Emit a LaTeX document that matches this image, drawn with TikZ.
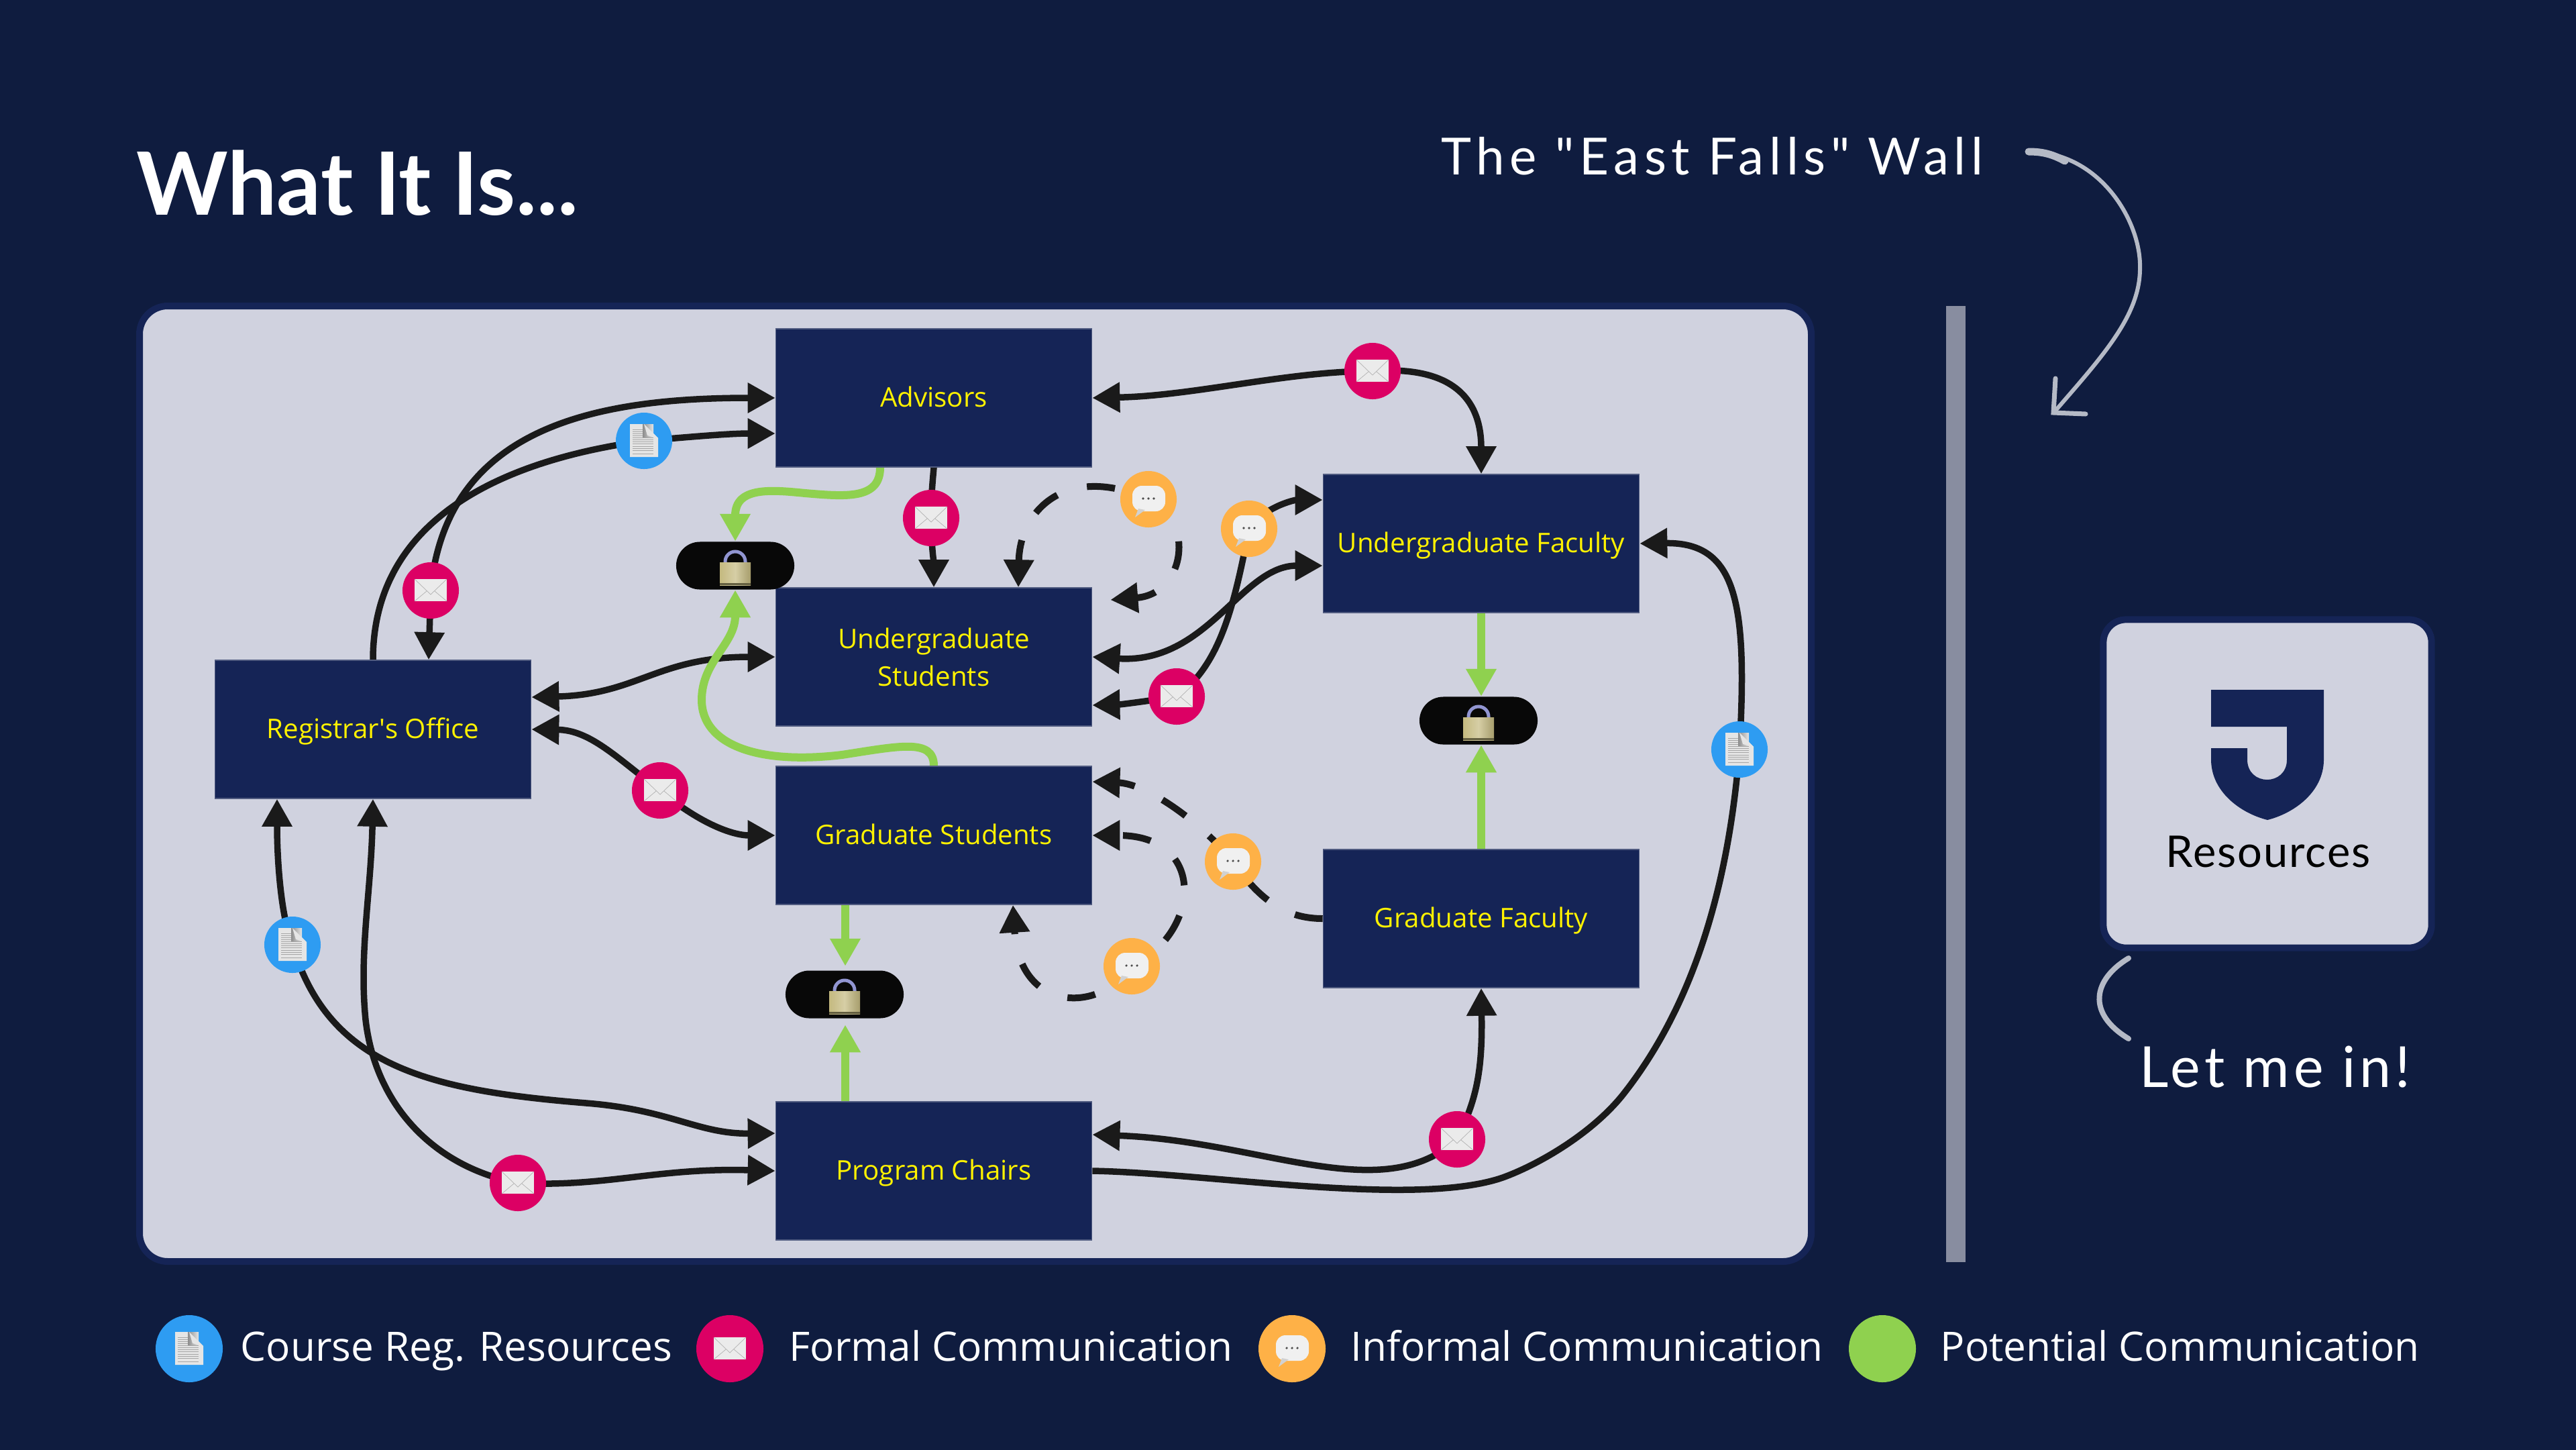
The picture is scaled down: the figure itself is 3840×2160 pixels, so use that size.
\documentclass[tikz,border=0pt]{standalone}
\usepackage{fontspec}
\usepackage{xcolor}
\usepackage{tikz}
\usetikzlibrary{arrows.meta, positioning, calc, backgrounds}
\setmainfont{Open Sans}
\newfontfamily\logofont{Lato}
\definecolor{nightbg}{HTML}{0F1C3F}
\definecolor{navybox}{HTML}{152456}
\definecolor{panelgray}{HTML}{D0D2DF}
\definecolor{wallgray}{HTML}{888DA0}
\definecolor{handgray}{HTML}{B5BAC6}
\definecolor{inkblack}{HTML}{1A1A1A}
\definecolor{docblue}{HTML}{2E9CF2}
\definecolor{mailpink}{HTML}{DC0064}
\definecolor{chatorange}{HTML}{FEB147}
\definecolor{maybegreen}{HTML}{8FD14F}
\definecolor{lockgold}{HTML}{C4B97F}
\tikzset{
    office/.style={draw=navybox!75!white, line width=0.4pt, fill=navybox, text=yellow, align=center,
        minimum width=4.71cm, minimum height=2.06cm, inner sep=0pt, font=\fontsize{11.45}{15.9}\selectfont},
    oneline/.style={text height=10pt, text depth=2.2pt},
    badge/.style={circle, minimum size=0.84cm, inner sep=0pt},
    bigbadge/.style={circle, minimum size=1cm, inner sep=0pt},
    lockpill/.style={rounded corners=0.355cm, fill=black!97!white, minimum width=1.76cm, minimum height=0.71cm, inner sep=0pt},
    flow/.style={draw=inkblack, line width=0.095cm},
    hopflow/.style={flow, line width=0.1cm, dash pattern=on 0.42cm off 0.46cm},
    maybeflow/.style={draw=maybegreen, line width=0.12cm},
    legendtext/.style={text=white, anchor=base west, inner sep=0pt, font=\fontsize{17.15}{20}\selectfont},
    handtext/.style={text=white, anchor=base west, inner sep=0pt},
    mailicon/.pic={
        \fill[black!8] (-24,-17) rectangle (24,16);
        \draw[black!30, line width=0.2pt] (-24,-17) -- (0,6) -- (24,-17) (-24,16) -- (-6,1) (24,16) -- (6,1);
    },
    docicon/.pic={
        \fill[black!10] (-21,-25) -- (0,-25) -- (21,-4) -- (21,24) -- (-21,24) -- cycle;
        \foreach \r in {-17,-14,-11,-8,-5,-2,1,4,8,11,14,19}
            \draw[black!35, line width=0.2pt] (-17,\r) -- (14,\r);
        \shade[left color=black!45, right color=black!10] (-2,-25) rectangle (14,-6);
        \fill[white!90!black] (0,-25) -- (21,-4) -- (5,-8) -- cycle;
    },
    chaticon/.pic={
        \fill[white!94!black, rounded corners=0.14cm] (-24,-20) rectangle (25,18);
        \fill[white!82!black] (-15,14) -- (-20,27) -- (-5,16) -- cycle;
        \foreach \d in {-8,0,8}
            \fill[black!70] (\d,-1) circle (0.018cm);
    },
    lockicon/.pic={
        \draw[handgray!80!blue, line width=0.05cm] (-15,8) -- (-15,-6) arc[start angle=180, end angle=0, radius=0.15cm] -- (15,8);
        \shade[left color=lockgold, right color=lockgold!85!black, middle color=lockgold!70!white] (-23,-5) rectangle (23,29);
        \fill[black!50!lockgold] (-23,26) rectangle (23,29);
    }
}

\begin{document}
\begin{tikzpicture}[x=0.01cm, y=-0.01cm, >={Triangle[length=0.41cm, width=0.43cm]}]
    \useasboundingbox (0,0) rectangle (3840,2160);

    % Offices
    \node[office, oneline] (reg) at (556,1087) {Registrar\textquotesingle s Office};
    \node[office, oneline] (adv) at (1392,593) {Advisors};
    \node[office] (ugs) at (1392,979) {Undergraduate\\Students};
    \node[office, oneline] (grs) at (1392,1245) {Graduate Students};
    \node[office, oneline] (chairs) at (1392,1745) {Program Chairs};
    \node[office, oneline] (ugf) at (2208,810) {Undergraduate Faculty};
    \node[office, oneline] (grf) at (2208,1369) {Graduate Faculty};

    % Badges on the connectors
    \foreach \n/\x/\y in {docA/960/657, docB/436/1408, docC/2593/1117} {
        \node[badge, fill=docblue] (\n) at (\x,\y) {};
        \pic at (\n) {docicon};
    }
    \foreach \n/\x/\y in {mailA/642/880, mailB/984/1178, mailC/1388/772, mailD/1754/1038, mailE/2046/553, mailF/772/1763, mailG/2172/1698} {
        \node[badge, fill=mailpink] (\n) at (\x,\y) {};
        \pic at (\n) {mailicon};
    }
    \foreach \n/\x/\y in {chatA/1712/744, chatB/1862/788, chatC/1838/1284, chatD/1687/1440} {
        \node[badge, fill=chatorange] (\n) at (\x,\y) {};
        \pic at (\n) {chaticon};
    }

    % Locks
    \foreach \n/\x/\y in {lockA/1096/843, lockB/1259/1482, lockC/2204/1074} {
        \node[lockpill] (\n) at (\x,\y) {};
        \pic at (\n) {lockicon};
    }

    % Ports off the middle of a side
    \coordinate (advLow) at ($(adv.west)+(0,53)$);
    \coordinate (advGreen) at ($(adv.south)+(-80,0)$);
    \coordinate (regHigh) at ($(reg.east)+(0,-48)$);
    \coordinate (regTop) at ($(reg.north)+(83,0)$);
    \coordinate (regLeft) at ($(reg.south)+(-143,0)$);
    \coordinate (ugsLow) at ($(ugs.east)+(0,72)$);
    \coordinate (ugsTop) at ($(ugs.north)+(126,0)$);
    \coordinate (ugsSide) at ($(ugs.east)+(27,-85)$);
    \coordinate (grsHigh) at ($(grs.east)+(0,-80)$);
    \coordinate (grsBase) at ($(grs.south)+(118,0)$);
    \coordinate (grsGreen) at ($(grs.south)+(-132,0)$);
    \coordinate (chairsHigh) at ($(chairs.west)+(0,-56)$);
    \coordinate (chairsRight) at ($(chairs.east)+(0,-54)$);
    \coordinate (chairsGreen) at ($(chairs.north)+(-132,0)$);
    \coordinate (ugfHigh) at ($(ugf.west)+(0,-65)$);
    \coordinate (ugfLow) at ($(ugf.west)+(0,33)$);

    \begin{scope}[on background layer]
        \fill[nightbg] (-10,-10) rectangle (3850,2170);
        \draw[navybox, line width=0.1cm, fill=panelgray, rounded corners=0.42cm] (208,456) rectangle (2700,1880);

        % Black connectors
        \draw[flow, <->] (adv.west) .. controls (880,593) and (665,640) .. (mailA.center) -- (regTop);
        \draw[flow, ->] (reg.north) .. controls (556,790) and (720,690) .. (docA.center) .. controls (1040,650) and (1090,646) .. (advLow);
        \draw[flow, <->] (regHigh) .. controls (950,1035) and (980,979) .. (ugs.west);
        \draw[flow, <->] (reg.east) .. controls (880,1088) and (920,1130) .. (mailB.center) .. controls (1040,1225) and (1090,1245) .. (grs.west);
        \draw[flow, ->] (adv.south) .. controls (1390,720) and (1388,740) .. (mailC.center) .. controls (1388,810) and (1392,840) .. (ugs.north);
        \draw[flow, <->] (ugfHigh) .. controls (1930,745) and (1885,755) .. (chatB.center) .. controls (1840,900) and (1820,990) .. (mailD.center) .. controls (1710,1045) and (1670,1050) .. (ugsLow);
        \draw[flow, <->] (ugs.east) .. controls (1800,990) and (1850,843) .. (ugfLow);
        \draw[flow, <->] (adv.east) .. controls (1780,590) and (1920,553) .. (mailE.center) .. controls (2160,545) and (2208,590) .. (ugf.north);
        \draw[flow, ->] (chairs.east) .. controls (1800,1748) and (2110,1800) .. (2240,1755) .. controls (2290,1737) and (2370,1692) .. (2418,1633) .. controls (2540,1480) and (2580,1280) .. (docC.center) .. controls (2605,900) and (2590,808) .. (ugf.east);
        \draw[flow, <->] (chairsRight) .. controls (1880,1700) and (2060,1800) .. (mailG.center) .. controls (2200,1640) and (2210,1600) .. (grf.south);
        \draw[flow, <->] (regLeft) .. controls (413,1290) and (420,1370) .. (docB.center) .. controls (490,1590) and (640,1625) .. (874,1644) .. controls (1000,1654) and (1040,1690) .. (chairsHigh);
        \draw[flow, <->] (reg.south) .. controls (553,1330) and (535,1420) .. (545,1520) .. controls (560,1650) and (650,1740) .. (mailF.center) .. controls (900,1770) and (980,1740) .. (chairs.west);

        % Dashed connectors
        \draw[hopflow, dash phase=0.1cm, <->] (ugsTop) .. controls (1520,760) and (1590,690) .. (chatA.center) .. controls (1780,770) and (1770,885) .. (ugsSide);
        \draw[hopflow, ->] (grf.west) .. controls (1920,1369) and (1880,1345) .. (chatC.center) .. controls (1790,1225) and (1710,1168) .. (grsHigh);
        \draw[hopflow, dash phase=0.37cm, <->] (grsBase) .. controls (1520,1510) and (1640,1510) .. (chatD.center) .. controls (1790,1390) and (1800,1245) .. (grs.east);

        % Green connectors
        \draw[maybeflow, ->] (advGreen) .. controls (1312,745) and (1260,740) .. (1200,735) .. controls (1150,730) and (1096,725) .. (lockA.north);
        \draw[maybeflow, ->] (grs.north) .. controls (1392,1100) and (1340,1112) .. (1255,1125) .. controls (1130,1140) and (1046,1110) .. (1046,1043) .. controls (1046,985) and (1096,960) .. (lockA.south);
        \draw[maybeflow, ->] (grsGreen) -- ($(lockB.north)+(1,-6)$);
        \draw[maybeflow, ->] (chairsGreen) -- ($(lockB.south)+(1,9)$);
        \draw[maybeflow, ->] (ugf.south) -- ($(lockC.north)+(4,0)$);
        \draw[maybeflow, ->] (grf.north) -- ($(lockC.south)+(4,0)$);
    \end{scope}

    % Wall and the resources card
    \fill[wallgray] (2901,456) rectangle (2930,1881);
    \node[draw=navybox, line width=0.1cm, fill=panelgray, rounded corners=0.34cm, minimum width=4.89cm, minimum height=4.89cm] (card) at (3380,1168) {};
    \fill[navybox] (3296,1028) -- (3464,1028) -- (3464,1132) .. controls (3464,1180) and (3420,1212) .. (3380,1222) .. controls (3340,1212) and (3296,1180) .. (3296,1132) -- (3296,1115) -- (3350,1115) -- (3350,1132) .. controls (3350,1172) and (3409,1172) .. (3409,1132) -- (3409,1083) -- (3296,1083) -- cycle;
    \node[anchor=base, inner sep=0pt, text=black, font=\logofont\addfontfeature{LetterSpace=3}\fontsize{18.5}{20}\selectfont] (cardlabel) at (3381,1292) {Resources};

    % Heading and hand notes
    \node[anchor=base west, inner sep=0pt, text=white, font=\logofont\bfseries\fontsize{37}{40}\selectfont] (title) at (203,320) {What It Is...};
    \node[handtext, font=\logofont\addfontfeature{LetterSpace=10}\fontsize{21.7}{24}\selectfont] (wallnote) at (2148,260) {The "East Falls" Wall};
    \node[handtext, font=\logofont\addfontfeature{LetterSpace=7}\fontsize{24}{26}\selectfont] (letnote) at (3189,1620) {Let me in!};
    \coordinate (wallstart) at (3024,226);
    \coordinate (wallend) at (3064,612);
    \coordinate (hookA) at (3173,1428);
    \coordinate (hookB) at (3173,1548);
    \draw[handgray, line width=0.06cm, line cap=round] (wallstart) .. controls (3130,226) and (3192,330) .. (3190,400) .. controls (3190,470) and (3135,530) .. (wallend);
    \draw[handgray, line width=0.11cm, line cap=round] (wallstart) .. controls (3045,226) and (3060,230) .. (3078,240);
    \draw[handgray, line width=0.07cm, line cap=round] (3064,564) -- (3061,615) -- (3109,617);
    \draw[handgray, line width=0.08cm, line cap=round] (hookA) .. controls (3120,1460) and (3110,1510) .. (hookB);

    % Legend
    \node[bigbadge, fill=docblue] (keyDoc) at (282,2010) {};
    \pic at (keyDoc) {docicon};
    \node[legendtext] (keyDocText) at (358,2028) {Course Reg. Resources};
    \node[bigbadge, fill=mailpink] (keyMail) at (1088,2010) {};
    \pic at (keyMail) {mailicon};
    \node[legendtext] (keyMailText) at (1176,2028) {Formal Communication};
    \node[bigbadge, fill=chatorange] (keyChat) at (1926,2010) {};
    \pic at (keyChat) {chaticon};
    \node[legendtext] (keyChatText) at (2013,2028) {Informal Communication};
    \node[bigbadge, fill=maybegreen] (keyGreen) at (2806,2010) {};
    \node[legendtext] (keyGreenText) at (2892,2028) {Potential Communication};
\end{tikzpicture}
\end{document}
